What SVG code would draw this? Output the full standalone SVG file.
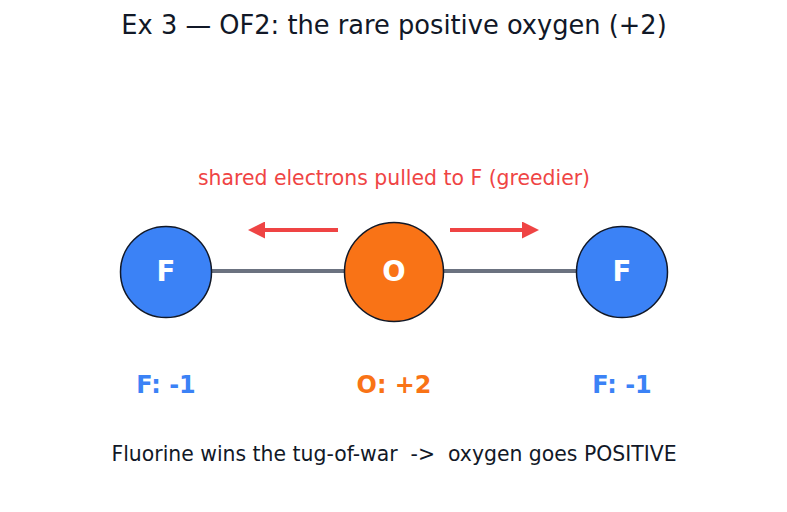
<svg xmlns="http://www.w3.org/2000/svg" width="787" height="512" viewBox="0 0 787 512">
  <defs>
    <marker id="head" viewBox="0 0 10 10" refX="0" refY="5" markerWidth="4.25" markerHeight="4.25" orient="auto" markerUnits="strokeWidth">
      <path d="M0,0 L10,5 L0,10 z" fill="#ef4444"/>
    </marker>
  </defs>
  <style>
    text { font-family: "DejaVu Sans", "Liberation Sans", sans-serif; text-anchor: middle; white-space: pre; }
    .title { font-size: 25.7px; fill: #111827; }
    .note { font-size: 20.4px; fill: #ef4444; }
    .atom-f { fill: #3b82f6; stroke: #111827; stroke-width: 1.5; }
    .atom-o { fill: #f97316; stroke: #111827; stroke-width: 1.5; }
    .sym { font-size: 27.5px; font-weight: bold; fill: #ffffff; }
    .ox-f { font-size: 23.9px; font-weight: bold; fill: #3b82f6; }
    .ox-o { font-size: 23.9px; font-weight: bold; fill: #f97316; }
    .bond { stroke: #6b7280; stroke-width: 4; }
    .pull { stroke: #ef4444; stroke-width: 4; fill: none; marker-end: url(#head); }
    .caption { font-size: 20.4px; fill: #111827; }
  </style>
  <rect width="787" height="512" fill="#ffffff"/>
  <text class="title" x="394" y="34">Ex 3 — OF2: the rare positive oxygen (+2)</text>
  <text class="note" x="394" y="185">shared electrons pulled to F (greedier)</text>

  <g id="connectors">
    <line class="bond" x1="211" y1="271" x2="345" y2="271"/>
    <line class="bond" x1="443" y1="271" x2="577" y2="271"/>
    <line class="pull" x1="338" y1="230" x2="265" y2="230"/>
    <line class="pull" x1="450" y1="230" x2="522" y2="230"/>
  </g>

  <g id="f-left">
    <circle class="atom-f" cx="166" cy="272" r="45.5"/>
    <text class="sym" x="166" y="281">F</text>
  </g>
  <g id="o-center">
    <circle class="atom-o" cx="394" cy="272" r="49.5"/>
    <text class="sym" x="394" y="281">O</text>
  </g>
  <g id="f-right">
    <circle class="atom-f" cx="622" cy="272" r="45.5"/>
    <text class="sym" x="622" y="281">F</text>
  </g>

  <text class="ox-f" x="166" y="393">F: -1</text>
  <text class="ox-o" x="394" y="393">O: +2</text>
  <text class="ox-f" x="622" y="393">F: -1</text>

  <text class="caption" x="394" y="461" xml:space="preserve">Fluorine wins the tug-of-war  -&gt;  oxygen goes POSITIVE</text>
</svg>
